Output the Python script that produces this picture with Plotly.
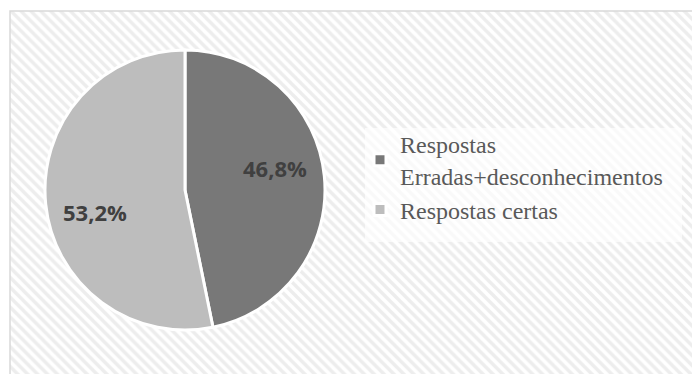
import math
import plotly.graph_objects as go

labels = ["Respostas<br>Erradas+desconhecimentos", "Respostas certas"]
values = [46.8, 53.2]
colors = ["#787878", "#bdbdbd"]

W, H = 692, 374
CX, CY, R = 185, H - 190, 140   # pie centre / radius in pixel space
LABEL_R = 0.66                   # label distance as fraction of radius
LABEL_SHIFT = -8                 # degrees (Excel best-fit placement)

fig = go.Figure()

# hatched background of the chart area
fig.add_trace(go.Scatter(
    x=[10, W + 5, W + 5, 10, 10], y=[-5, -5, H - 11, H - 11, -5],
    mode="lines", fill="toself",
    line=dict(color="#d9d9d9", width=1.5),
    fillcolor="white",
    fillpattern=dict(shape="\\", size=7, solidity=0.5, fgcolor="#dcdcdc", bgcolor="#ffffff"),
    hoverinfo="skip", showlegend=False,
))

fig.add_trace(go.Pie(
    labels=labels, values=values,
    sort=False, direction="clockwise", rotation=0,
    marker=dict(colors=colors, line=dict(color="white", width=3)),
    textinfo="none",
    domain=dict(x=[(CX - R) / W, (CX + R) / W], y=[(CY - R) / H, (CY + R) / H]),
    hoverinfo="label+percent",
))

# percentage labels placed on each slice's bisector
total = sum(values)
cum = 0.0
annotations = []
for v in values:
    mid = (cum + v / 2) / total * 360 + LABEL_SHIFT
    cum += v
    ang = math.radians(mid)
    annotations.append(dict(
        x=CX + LABEL_R * R * math.sin(ang), y=CY + LABEL_R * R * math.cos(ang),
        xref="x", yref="y", showarrow=False,
        text=f"{v / total * 100:.1f}%".replace(".", ","),
        font=dict(family="Open Sans", size=22, color="#404040", weight="bold"),
    ))

fig.update_layout(
    width=W, height=H,
    margin=dict(l=0, r=0, t=0, b=0),
    paper_bgcolor="white", plot_bgcolor="rgba(0,0,0,0)",
    separators=",.",
    xaxis=dict(range=[0, W], domain=[0, 1], visible=False, fixedrange=True),
    yaxis=dict(range=[0, H], domain=[0, 1], visible=False, fixedrange=True),
    showlegend=True,
    legend=dict(
        x=360 / W, y=1 - 122 / H, xanchor="left", yanchor="top",
        bgcolor="rgba(0,0,0,0)",
        font=dict(family="Liberation Serif", size=24, color="#595959"),
        itemwidth=30, tracegroupgap=0,
    ),
    annotations=annotations,
    shapes=[dict(type="rect", xref="x", yref="y", x0=365, x1=682, y0=H - 242, y1=H - 128,
                 fillcolor="rgba(255,255,255,0.65)", line=dict(width=0), layer="above")],
)

fig.write_html("out.html")
